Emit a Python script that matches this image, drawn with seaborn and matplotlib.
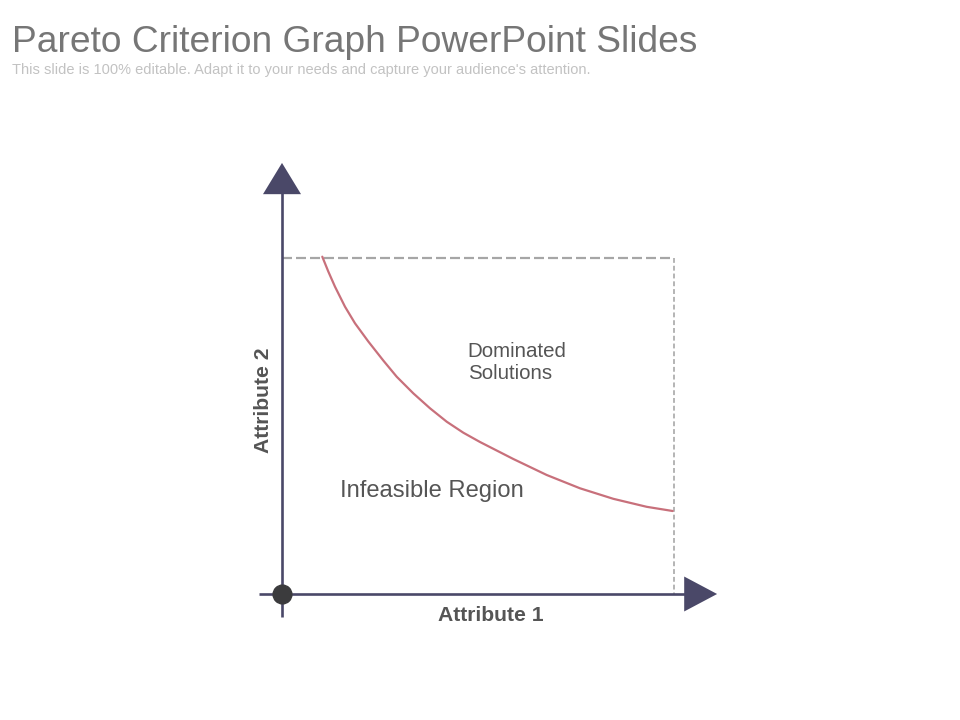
import matplotlib
matplotlib.use("Agg")
import matplotlib.pyplot as plt
import seaborn as sns
import pandas as pd
from matplotlib.patches import Polygon

# ---- data (Attribute scales 0..100) ----
attribute1 = [10.28, 11.81, 13.52, 16.07, 18.62, 22.02, 25.84, 29.26, 33.49, 37.76,
              42.02, 46.25, 50.51, 59.01, 67.53, 76.02, 84.52, 93.04, 99.67]
attribute2 = [100.39, 95.98, 91.46, 85.51, 80.57, 75.15, 69.49, 64.67, 59.73, 55.27,
              51.28, 48.01, 45.24, 40.18, 35.42, 31.46, 28.33, 25.95, 24.70]
bound_x = 100
bound_y = 100

title = "Pareto Criterion Graph PowerPoint Slides"
subtitle = "This slide is 100% editable. Adapt it to your needs and capture your audience's attention."
x_label = "Attribute 1"
y_label = "Attribute 2"
label_dominated = "Dominated\nSolutions"
label_infeasible = "Infeasible Region"

sns.set_theme(style="white")
plt.rcParams['font.family'] = ['Liberation Sans', 'DejaVu Sans']

fig = plt.figure(figsize=(9.6, 7.2), dpi=100)
ax = fig.add_axes([0, 0, 1, 1])
ax.set_xlim(-71.94, 172.96)
ax.set_ylim(-37.5, 176.79)
ax.axis("off")

axis_col = "#4a4868"

# dashed bounding lines
ax.plot([0, bound_x], [bound_y, bound_y], color="#a6a6a6", lw=1.6,
        dashes=(4.5, 1.8), zorder=2)
ax.plot([bound_x, bound_x], [bound_y, 0], color="#b4b4b4", lw=1.4,
        dashes=(2.5, 1.5), zorder=2)

# Pareto curve
df = pd.DataFrame({"a1": attribute1, "a2": attribute2})
sns.lineplot(data=df, x="a1", y="a2", ax=ax, color="#c8707b", lw=1.6,
             sort=False, zorder=3)

# axes lines
ax.plot([0, 0], [-6.8, 120], color=axis_col, lw=1.9, zorder=4, solid_capstyle="butt")
ax.plot([-5.9, 103], [0, 0], color=axis_col, lw=1.9, zorder=4, solid_capstyle="butt")
ax.add_patch(Polygon([[-4.85, 119.0], [4.85, 119.0], [0, 128.3]], closed=True,
                     color=axis_col, zorder=5, lw=0))
ax.add_patch(Polygon([[102.6, 5.2], [102.6, -5.2], [111.0, 0]], closed=True,
                     color=axis_col, zorder=5, lw=0))
ax.plot([0], [0], "o", color="#3b3b3d", ms=13.5, zorder=6)

# labels
ax.text(53.3, -6.3, x_label, fontsize=15.2, fontweight="bold", color="#555555",
        ha="center", va="center")
ax.text(-4.8, 57.7, y_label, fontsize=15.2, fontweight="bold", color="#555555",
        ha="center", va="center", rotation=90)
ax.text(47.4, 68.8, label_dominated, fontsize=14.8, color="#555555",
        ha="left", va="center", linespacing=1.2)
ax.text(14.8, 30.7, label_infeasible, fontsize=17.1, color="#555555",
        ha="left", va="center")

fig.text(12 / 960, 1 - 52 / 720, title, fontsize=26.7, color="#767676",
         ha="left", va="baseline")
fig.text(12 / 960, 1 - 74 / 720, subtitle, fontsize=10.5, color="#c2c2c2",
         ha="left", va="baseline")

fig.savefig("out.png", dpi=100)
